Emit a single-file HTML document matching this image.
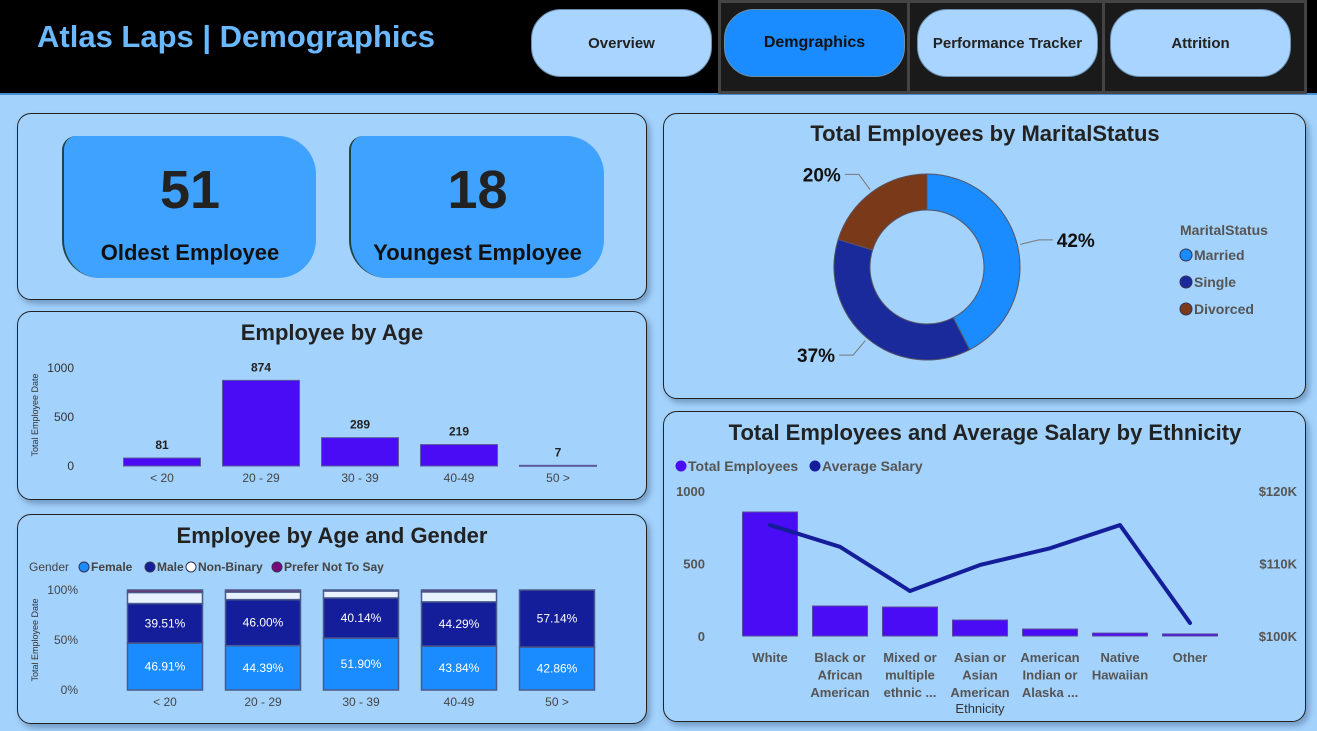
<!DOCTYPE html>
<html><head><meta charset="utf-8">
<style>
*{box-sizing:border-box;margin:0;padding:0}
body{width:1317px;height:731px;background:#a3d2fc;font-family:"Liberation Sans",sans-serif;position:relative;overflow:hidden}
.abs{position:absolute}
.hdr{left:0;top:0;width:1317px;height:95px;background:#000;border-bottom:2px solid #4a8fd0}
.title{left:37px;top:19px;font-size:31px;font-weight:bold;color:#6ab8ff}
.navbox{top:0;height:94px;background:#1a1a1a;border:3px solid #444}
.btn{top:9px;height:68px;border-radius:30px;background:#a8d4ff;border:1px solid #6a8fb0;font-weight:bold;font-size:15px;color:#222;display:flex;align-items:center;justify-content:center}
.panel{border:1.5px solid #222;border-radius:14px;background:#a3d2fc;box-shadow:3px 4px 6px rgba(60,90,130,.45)}
.kpi{background:#40a2ff;border-radius:14px 38px 38px 38px;border-left:2px solid #244;text-align:center;color:#222}
.kpi .v{font-size:54px;font-weight:bold;margin-top:24px;line-height:60px}
.kpi .l{font-size:22px;font-weight:bold;color:#111;margin-top:20px}
svg text{font-family:"Liberation Sans",sans-serif}
</style></head><body>
<div class="abs hdr"></div>
<div class="abs title">Atlas Laps | Demographics</div>
<div class="abs navbox" style="left:718px;width:192px"></div>
<div class="abs navbox" style="left:907px;width:198px"></div>
<div class="abs navbox" style="left:1102px;width:205px"></div>
<div class="abs btn" style="left:531px;width:181px">Overview</div>
<div class="abs btn" style="left:724px;width:181px;background:#1a8cff;color:#111;font-size:16px">Demgraphics</div>
<div class="abs btn" style="left:917px;width:181px">Performance Tracker</div>
<div class="abs btn" style="left:1110px;width:181px">Attrition</div>

<div class="abs panel" style="left:17px;top:113px;width:630px;height:187px"></div>
<div class="abs kpi" style="left:62px;top:136px;width:254px;height:142px"><div class="v">51</div><div class="l">Oldest Employee</div></div>
<div class="abs kpi" style="left:349px;top:136px;width:255px;height:142px"><div class="v">18</div><div class="l">Youngest Employee</div></div>

<div class="abs panel" style="left:17px;top:311px;width:630px;height:189px"></div>
<div class="abs panel" style="left:17px;top:514px;width:630px;height:210px"></div>
<div class="abs panel" style="left:663px;top:113px;width:643px;height:286px"></div>
<div class="abs panel" style="left:663px;top:411px;width:643px;height:311px"></div>

<svg class="abs" style="left:0;top:0" width="1317" height="731" id="charts"></svg>

<script>
// ---- Age chart data
const ageCats = ["< 20","20 - 29","30 - 39","40-49","50 >"];
const ageVals = [81,874,289,219,7];
const ageTicks = [0,500,1000];
// ---- Gender chart data
const genderCats = ["< 20","20 - 29","30 - 39","40-49","50 >"];
const femalePct = [46.91,44.39,51.90,43.84,42.86];
const malePct = [39.51,46.00,40.14,44.29,57.14];
const nonBinaryPct = [11.11,7.6,7.0,10.0,0];
const preferPct = [2.47,2.01,0.96,1.87,0];
const pctTicks = [0,50,100];
// ---- Marital data
const maritalCats = ["Married","Single","Divorced"];
const maritalVals = [42,37,20];
// ---- Ethnicity data
const ethCats = [["White"],["Black or","African","American"],["Mixed or","multiple","ethnic ..."],["Asian or","Asian","American"],["American","Indian or","Alaska ..."],["Native","Hawaiian"],["Other"]];
const ethCounts = [855,207,200,110,48,20,14];
const ethSalary = [115.3,112.3,106.2,109.8,112.1,115.3,101.8];
const countTicks = [0,500,1000];
const salaryTicks = [100,110,120];

const svg = document.getElementById('charts');
const NS = "http://www.w3.org/2000/svg";
function mk(tag, attrs, txt){const e=document.createElementNS(NS,tag);for(const k in attrs)e.setAttribute(k,attrs[k]);if(txt!==undefined)e.textContent=txt;svg.appendChild(e);return e;}

let t;
t=mk('text',{x:332,y:340,'text-anchor':'middle','font-size':22,'font-weight':'bold',fill:'#222'},'Employee by Age');


t=mk('text',{x:332,y:543,'text-anchor':'middle','font-size':22,'font-weight':'bold',fill:'#222'},'Employee by Age and Gender');


t=mk('text',{x:985,y:141,'text-anchor':'middle','font-size':22,'font-weight':'bold',fill:'#222'},'Total Employees by MaritalStatus');


t=mk('text',{x:985,y:440,'text-anchor':'middle','font-size':22,'font-weight':'bold',fill:'#222'},'Total Employees and Average Salary by Ethnicity');



// ---- Age chart
(function(){
  const y0=466, y1=368, max=1000; const y=v=>y0-(v/max)*(y0-y1);
  const x=i=>162+i*99; const w=77;
  ageTicks.forEach(v=>{const e=mk('text',{x:74,y:y(v)+4,'text-anchor':'end','font-size':12,fill:'#333'},v);
    
    });
  const a=mk('text',{x:0,y:0,transform:'translate(38,415) rotate(-90)','text-anchor':'middle','font-size':9,fill:'#333'},'Total Employee Date');
  
  
  ageVals.forEach((v,i)=>{
    const r=mk('rect',{x:x(i)-w/2,y:y(v),width:w,height:Math.max(1,y0-y(v)),fill:'#4a0cf5',stroke:'#5a5a9a','stroke-width':1});
    
    
    const l=mk('text',{x:x(i),y:y(v)-9,'text-anchor':'middle','font-size':12,'font-weight':'bold',fill:'#222'},v);
    
    
    const c=mk('text',{x:x(i),y:482,'text-anchor':'middle','font-size':12,fill:'#444'},ageCats[i]);
    
    
  });
})();

// ---- Gender chart
(function(){
  const leg=[["Gender",null,29],["Female","#1a8cff",78],["Male","#141e9a",144],["Non-Binary","#ffffff",185],["Prefer Not To Say","#7a0a7a",271]];
  leg.forEach(([n,c,lx])=>{
    if(c){const d=mk('circle',{cx:lx+6,cy:567,r:5,fill:c,stroke:'#335','stroke-width':1});
      
      }
    const e=mk('text',{x:c?lx+13:lx,y:571,'font-size':12,fill:'#444','font-weight':c?'bold':'normal'},n);
    
    
  });
  const y0=690,y1=590; const y=p=>y0-(p/100)*(y0-y1); const x=i=>165+i*98; const w=75;
  pctTicks.forEach(v=>{const e=mk('text',{x:78,y:y(v)+4,'text-anchor':'end','font-size':12,fill:'#444'},v+'%');
    
    });
  const a=mk('text',{x:0,y:0,transform:'translate(38,640) rotate(-90)','text-anchor':'middle','font-size':9,fill:'#333'},'Total Employee Date');
  
  
  const series=[[femalePct,'#1a8cff','female'],[malePct,'#141e9a','male'],[nonBinaryPct,'#e8f2ff','non-binary'],[preferPct,'#7a2a6a','prefer-not']];
  genderCats.forEach((cat,i)=>{
    let acc=0;
    series.forEach(([arr,col,nm])=>{
      const v=arr[i]; if(v<=0)return;
      const r=mk('rect',{x:x(i)-w/2,y:y(acc+v),width:w,height:y(acc)-y(acc+v),fill:col,stroke:'#4a5a8a','stroke-width':1.5});
      
      
      if(nm==='female'||nm==='male'){
        const l=mk('text',{x:x(i),y:(y(acc)+y(acc+v))/2+4,'text-anchor':'middle','font-size':12,fill:'#fff'},v.toFixed(2)+'%');
        
        
      }
      acc+=v;
    });
    const c=mk('text',{x:x(i),y:706,'text-anchor':'middle','font-size':12,fill:'#444'},cat);
    
    
  });
})();

// ---- Marital donut
(function(){
  const cx=927,cy=267,R=93,r=57; const cols=['#1a8cff','#1a2a9a','#7a3a1a'];
  const tot=maritalVals.reduce((a,b)=>a+b,0); let ang=0;
  const pt=(rad,a)=>[cx+rad*Math.sin(a),cy-rad*Math.cos(a)];
  maritalVals.forEach((v,i)=>{
    const a0=ang, a1=ang+v/tot*2*Math.PI; ang=a1;
    const large=(a1-a0)>Math.PI?1:0;
    const [x0,y0]=pt(R,a0),[x1,y1]=pt(R,a1),[x2,y2]=pt(r,a1),[x3,y3]=pt(r,a0);
    const p=mk('path',{d:`M${x0},${y0}A${R},${R} 0 ${large} 1 ${x1},${y1}L${x2},${y2}A${r},${r} 0 ${large} 0 ${x3},${y3}Z`,fill:cols[i],stroke:'#556','stroke-width':1});
    
    
    const mid=(a0+a1)/2; const right=Math.sin(mid)>0;
    const [lx,ly]=pt(R+3,mid); const [tx,ty]=pt(R+22,mid);
    const ex=tx+(right?14:-14);
    const ln=mk('polyline',{points:`${lx},${ly} ${tx},${ty} ${ex},${ty}`,fill:'none',stroke:'#777','stroke-width':1});
    
    
    const l=mk('text',{x:ex+(right?4:-4),y:ty+7,'text-anchor':right?'start':'end','font-size':19,'font-weight':'bold',fill:'#111'},v+'%');
    
    
  });
  const h=mk('text',{x:1180,y:235,'font-size':14,'font-weight':'bold',fill:'#555'},'MaritalStatus');
  
  
  maritalCats.forEach((c,i)=>{
    const d=mk('circle',{cx:1186,cy:255+i*27,r:6,fill:cols[i],stroke:'#335'});
    
    
    const e=mk('text',{x:1194,y:260+i*27,'font-size':14,'font-weight':'bold',fill:'#555'},c);
    
    
  });
})();

// ---- Ethnicity combo
(function(){
  const y0=636,y1=491; const yc=v=>y0-v/1000*(y0-y1); const ys=v=>y0-(v-100)/20*(y0-y1);
  const x=i=>770+i*70; const w=55;
  [["Total Employees","#4a0cf5",675],["Average Salary","#141e9a",809]].forEach(([n,c,lx])=>{
    const d=mk('circle',{cx:lx+6,cy:466,r:5.5,fill:c});
    
    
    const e=mk('text',{x:lx+13,y:471,'font-size':14,'font-weight':'bold',fill:'#555'},n);
    
    
  });
  countTicks.forEach(v=>{const e=mk('text',{x:705,y:yc(v)+5,'text-anchor':'end','font-size':13,'font-weight':'bold',fill:'#555'},v);
    
    });
  salaryTicks.forEach(v=>{const e=mk('text',{x:1297,y:ys(v)+5,'text-anchor':'end','font-size':13,'font-weight':'bold',fill:'#555'},'$'+v+'K');
    
    });
  ethCounts.forEach((v,i)=>{
    const r=mk('rect',{x:x(i)-w/2,y:yc(v),width:w,height:Math.max(2,y0-yc(v)),fill:'#4a0cf5',stroke:'#5a4a9a','stroke-width':1});
    
    
    ethCats[i].forEach((ln,j)=>{
      const c=mk('text',{x:x(i),y:662+j*17.5,'text-anchor':'middle','font-size':13,'font-weight':'bold',fill:'#555'},ln);
      
      
    });
  });
  const pl=mk('polyline',{points:ethSalary.map((v,i)=>x(i)+','+ys(v)).join(' '),fill:'none',stroke:'#141e9a','stroke-width':4,'stroke-linejoin':'round','stroke-linecap':'round'});
  
  
  const at=mk('text',{x:x(3),y:713,'text-anchor':'middle','font-size':13,fill:'#333'},'Ethnicity');
  
  
})();
</script>
</body></html>
